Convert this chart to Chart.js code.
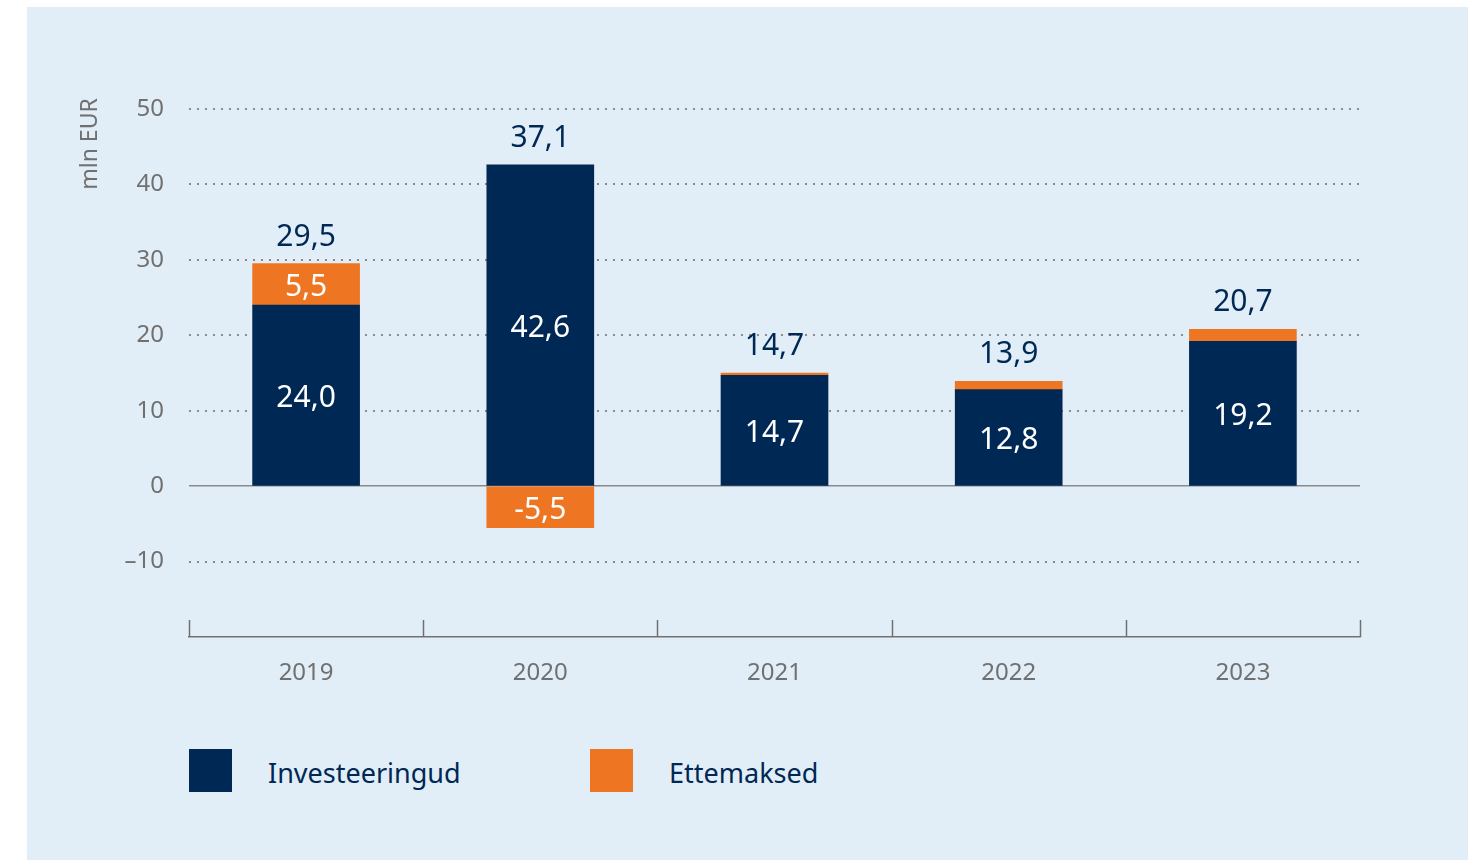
<!DOCTYPE html>
<html>
<head>
<meta charset="utf-8">
<script src="https://cdn.jsdelivr.net/npm/chart.js@4.4.1/dist/chart.umd.min.js"></script>
<style>
    body { margin: 0; background: #fff; font-family: "Noto Sans", sans-serif; }
    #panel { position: absolute; left: 27px; top: 7px; width: 1441px; height: 853px; background: #e2eef7; }
    #wrap { position: absolute; left: 0; top: 0; width: 1441px; height: 720px; }
    #legend { position: absolute; left: 162px; top: 742px; display: flex; }
    .item { display: flex; align-items: center; width: 401px; }
    .box { width: 43px; height: 43px; margin-right: 36px; }
    .item span { font-size: 27px; color: #002855; position: relative; top: 2px; }
</style>
</head>
<body>
<div id="panel">
    <div id="wrap"><canvas id="chart"></canvas></div>
    <div id="legend"></div>
</div>
<script>
// andmed (mln EUR)
const aastad = ['2019', '2020', '2021', '2022', '2023'];
const investeeringud = [24.0, 42.6, 14.7, 12.8, 19.2];
const ettemaksed = [5.5, -5.5, 0.3, 1.1, 1.6];
const kokku = [29.5, 37.1, 14.7, 13.9, 20.7];

const NAVY = '#002855';
const ORANGE = '#ee7623';
const GREY = '#707070';

function fmt(v) {
    return v.toFixed(1).replace('.', ',');
}

// väärtused tulpade sees ja kogusumma tulba kohal
const barLabels = {
    id: 'barLabels',
    afterDatasetsDraw(chart) {
        const ctx = chart.ctx;
        ctx.save();
        ctx.font = '30px "Noto Sans"';
        ctx.textAlign = 'center';
        ctx.textBaseline = 'middle';
        ctx.fillStyle = '#fff';
        chart.data.datasets.forEach((ds, di) => {
            chart.getDatasetMeta(di).data.forEach((bar, i) => {
                if (Math.abs(bar.base - bar.y) < 24) return;
                ctx.fillText(fmt(ds.data[i]), bar.x, (bar.y + bar.base) / 2 + 3);
            });
        });
        ctx.textBaseline = 'alphabetic';
        ctx.fillStyle = NAVY;
        const m0 = chart.getDatasetMeta(0).data;
        const m1 = chart.getDatasetMeta(1).data;
        kokku.forEach((v, i) => {
            const top = Math.min(m0[i].y, m0[i].base, m1[i].y, m1[i].base);
            ctx.fillText(fmt(v), m0[i].x, top - 18);
        });
        ctx.restore();
    }
};

// x-telje vahejoonte märgid ja y-telje pealkiri
const axisExtras = {
    id: 'axisExtras',
    afterDraw(chart) {
        const ctx = chart.ctx;
        const x = chart.scales.x;
        const bottom = chart.chartArea.bottom;
        ctx.save();
        ctx.strokeStyle = GREY;
        ctx.lineWidth = 1.5;
        for (let i = 0; i <= aastad.length; i++) {
            const px = Math.round(x.getPixelForValue(i - 0.5)) + 0.5;
            ctx.beginPath();
            ctx.moveTo(px, bottom - 17);
            ctx.lineTo(px, bottom);
            ctx.stroke();
        }
        ctx.translate(63, 137);
        ctx.rotate(-Math.PI / 2);
        ctx.font = '23px "Noto Sans"';
        ctx.fillStyle = GREY;
        ctx.textAlign = 'center';
        ctx.textBaseline = 'middle';
        ctx.fillText('mln EUR', 0, 0);
        ctx.restore();
    }
};

const chart = new Chart(document.getElementById('chart'), {
    type: 'bar',
    plugins: [barLabels, axisExtras],
    data: {
        labels: aastad,
        datasets: [
            { label: 'Investeeringud', data: investeeringud, backgroundColor: NAVY },
            { label: 'Ettemaksed', data: ettemaksed, backgroundColor: ORANGE }
        ]
    },
    options: {
        responsive: true,
        maintainAspectRatio: false,
        animation: false,
        layout: { padding: { left: 62, right: 108, top: 102, bottom: 30 } },
        plugins: {
            legend: { display: false },
            tooltip: { enabled: false }
        },
        datasets: { bar: { barThickness: 107 } },
        scales: {
            x: {
                stacked: true,
                grid: { display: false, drawTicks: false },
                border: { display: true, color: GREY, width: 1.5 },
                ticks: { color: GREY, font: { family: 'Noto Sans', size: 24 }, padding: 22 },
                afterFit: (s) => { s.height = 60; }
            },
            y: {
                stacked: true,
                min: -20,
                max: 50,
                ticks: {
                    stepSize: 10,
                    color: GREY,
                    padding: 25,
                    font: { family: 'Noto Sans', size: 24 },
                    callback: (v) => v === -20 ? '' : (v < 0 ? '\u2013' + Math.abs(v) : v)
                },
                grid: {
                    drawTicks: false,
                    color: (c) => c.tick && c.tick.value === -20 ? 'rgba(0,0,0,0)' : '#8a8a8a',
                    lineWidth: (c) => c.tick && c.tick.value === 0 ? 1.5 : 2
                },
                border: {
                    display: false,
                    dash: (c) => c.tick && c.tick.value === 0 ? [] : [2, 6]
                },
                afterFit: (s) => { s.width = 100; }
            }
        }
    }
});

// legend
const legend = document.getElementById('legend');
chart.data.datasets.forEach(ds => {
    const item = document.createElement('div');
    item.className = 'item';
    item.innerHTML = `<div class="box" style="background:${ds.backgroundColor}"></div><span>${ds.label}</span>`;
    legend.appendChild(item);
});
</script>
</body>
</html>
